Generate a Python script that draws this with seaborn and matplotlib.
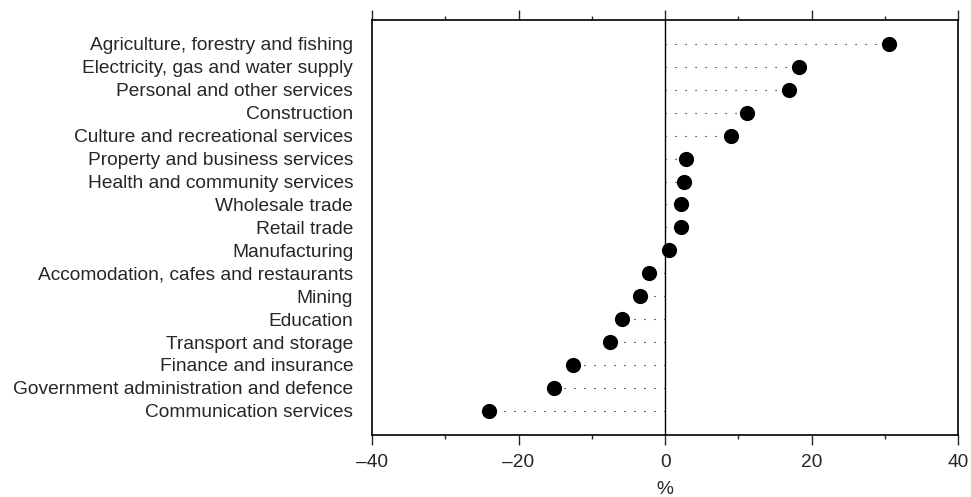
import numpy as np
import pandas as pd
import matplotlib
matplotlib.use("Agg")
import matplotlib.pyplot as plt
import seaborn as sns
from matplotlib.ticker import MultipleLocator

industries = [
    "Agriculture, forestry and fishing",
    "Electricity, gas and water supply",
    "Personal and other services",
    "Construction",
    "Culture and recreational services",
    "Property and business services",
    "Health and community services",
    "Wholesale trade",
    "Retail trade",
    "Manufacturing",
    "Accomodation, cafes and restaurants",
    "Mining",
    "Education",
    "Transport and storage",
    "Finance and insurance",
    "Government administration and defence",
    "Communication services",
]
change_pct = [30.6, 18.2, 16.9, 11.1, 9.0, 2.8, 2.6, 2.2, 2.1, 0.5,
              -2.2, -3.4, -5.9, -7.5, -12.5, -15.2, -24.0]

sns.set_style("white")
plt.rcParams["font.family"] = ["Liberation Sans", "DejaVu Sans"]
plt.rcParams["font.size"] = 13.8

df = pd.DataFrame({"industry": industries, "change": change_pct})

fig = plt.figure(figsize=(9.71, 4.97), dpi=100)
ax = fig.add_axes([0.383, 0.125, 0.604, 0.835])

# dotted leader lines from zero to each point
ax.hlines(y=np.arange(len(df)), xmin=0, xmax=df["change"],
          colors="black", linestyles=(0, (1, 8)), linewidth=0.8, zorder=1)
ax.axvline(0, color="black", linewidth=1.0, zorder=1)

sns.scatterplot(data=df, x="change", y="industry", ax=ax, color="black",
                s=120, edgecolor="black", linewidth=0, zorder=3, legend=False)

ax.set_xlim(-40, 40)
ax.set_ylim(len(df) - 1 + 1.05, -1.05)
ax.xaxis.set_major_locator(MultipleLocator(20))
ax.xaxis.set_minor_locator(MultipleLocator(10))
ax.set_xticklabels([f"{int(t)}".replace("-", "\u2013") for t in ax.get_xticks()])
ax.tick_params(axis="x", which="major", direction="out", length=7, width=1.0,
               top=True, bottom=True, labeltop=False, pad=7, labelsize=13.8)
ax.tick_params(axis="x", which="minor", direction="out", length=3, width=1.0,
               top=True, bottom=True)
ax.tick_params(axis="y", length=0, pad=13.5, labelsize=13.8)

for s in ax.spines.values():
    s.set_visible(True)
    s.set_color("black")
    s.set_linewidth(1.2)

ax.set_xlabel("%", fontsize=13.8, labelpad=7)
ax.set_ylabel("")

fig.savefig("out.png", dpi=100)
